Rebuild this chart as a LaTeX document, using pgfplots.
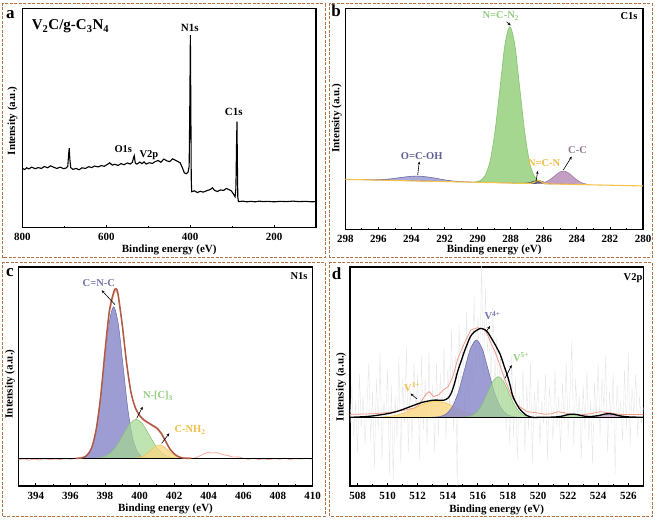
\documentclass[border=0pt]{standalone}
\usepackage{fontspec}
\setmainfont{Liberation Serif}
\usepackage{pgfplots}
\pgfplotsset{compat=1.18}
\usetikzlibrary{arrows.meta}
\definecolor{frameC}{RGB}{180,112,70}
\definecolor{pfill}{RGB}{140,140,205}
\definecolor{pline}{RGB}{105,105,165}
\definecolor{gfill}{RGB}{165,215,145}
\definecolor{gline}{RGB}{130,195,110}
\definecolor{cfill}{RGB}{195,160,195}
\definecolor{cline}{RGB}{160,125,160}
\definecolor{yline}{RGB}{245,195,75}
\definecolor{yfill}{RGB}{250,215,130}
\definecolor{navyC}{RGB}{60,70,110}
\definecolor{brownC}{RGB}{175,90,70}
\definecolor{pinkC}{RGB}{240,170,155}
\definecolor{salmonC}{RGB}{240,155,135}
\definecolor{noiseC}{RGB}{230,230,230}
\definecolor{tOCOH}{RGB}{95,95,145}
\definecolor{tGreen}{RGB}{145,205,125}
\definecolor{tYellow}{RGB}{240,190,70}
\definecolor{tCC}{RGB}{150,120,150}
\definecolor{tBlue}{RGB}{115,115,175}
\pgfplotsset{
  panel/.style={
    scale only axis, anchor=south west,
    axis line style={line width=1.4pt},
    ytick=\empty, xtick pos=lower, tick align=inside,
    major tick length=3pt, minor tick length=2pt,
    every tick/.style={black, line width=0.8pt},
    /pgf/number format/assume math mode=true,
    /pgf/number format/1000 sep={},
    xticklabel style={font=\bfseries\fontsize{11}{13}\selectfont, anchor=center},
    xlabel={Binding energy (eV)}, ylabel={Intensity (a.u.)},
    xlabel style={font=\bfseries\fontsize{11}{13}\selectfont, at={(axis description cs:0.5,0)}, anchor=center},
    ylabel style={font=\bfseries\fontsize{11}{13}\selectfont, anchor=center},
  },
}
\tikzset{
  tl/.style={anchor=base, inner sep=0pt, font=\bfseries\fontsize{10.5}{12}\selectfont},
  arr/.style={-{Stealth[length=3pt,width=2.6pt]}, line width=0.6pt, black},
}
\begin{document}
\begin{tikzpicture}[x=1pt,y=1pt]
\path[use as bounding box] (0,0) rectangle (655,519);
% ---------------- panel a
\begin{axis}[panel, at={(22.5pt,291.3pt)}, width=293.5pt, height=219.4pt,
  xmin=100, xmax=800, x dir=reverse, ymin=0, ymax=100,
  xtick={200,400,600,800}, minor xtick={100,300,500,700},
  xticklabel style={yshift=-9pt}, xlabel style={yshift=-22.3pt},
  ylabel style={at={(axis description cs:-0.034,0.487)}}]
\addplot[black, line width=1.1pt] coordinates {
(801,27.1) (795,26.5) (790,27.3) (785,26.8) (778,27.6) (770,26.9) (762,27.4) (755,27.0)
(748,27.9) (740,27.3) (733,28.2) (725,27.5) (718,27.0) (710,27.6) (702,26.9) (696,27.2)
(692,28.0) (690,33.5) (688.5,36.2) (687,31) (685,27.4) (680,26.6) (672,27.0) (665,26.4)
(658,27.3) (650,27.0) (642,27.8) (635,27.4) (628,28.1) (620,27.7) (612,28.3) (605,28.0)
(598,28.8) (592,29.6) (586,28.5) (580,28.9) (572,28.4) (565,29.2) (558,28.7) (550,29.5)
(543,29.0) (538,29.8) (535,32.0) (533.5,32.8) (531,29.5) (527,29.0) (520,29.9) (515,29.2)
(510,30.0) (505,29.0) (498,29.6) (490,29.3) (483,30.2) (476,30.6) (470,29.8) (463,31.3)
(456,30.5) (449,30.1) (442,31.4) (436,30.8) (430,30.2) (424,29.6) (419,27.5) (414,25.0)
(409,24.6) (405,25.4) (402.5,28) (401,55) (399.6,87.8) (398.5,55) (397.5,22) (396.5,16.4)
(390,16.8) (383,16.0) (376,16.6) (369,16.2) (360,16.9) (352,17.4) (347,18.2) (342,17.0)
(335,16.5) (328,17.2) (320,17.0) (314,17.9) (308,17.4) (302,16.8) (297,15.4) (293,14.1)
(291,18) (289.5,38) (288.5,48.3) (287.5,30) (286.5,14) (285,11.9) (275,12.1) (265,11.8)
(255,12.0) (245,11.8) (235,12.1) (225,11.9) (215,12.0) (200,11.8) (185,12.0) (170,11.9)
(155,12.1) (140,11.9) (125,12.0) (110,11.8) (100,11.9)};
\end{axis}
% ---------------- panel b
\begin{axis}[panel, at={(345.3pt,289.3pt)}, width=297.7pt, height=221.4pt,
  xmin=280, xmax=298, x dir=reverse, ymin=-3.67, ymax=97.4,
  xtick={280,282,...,298}, minor xtick={281,283,...,297},
  xticklabel style={yshift=-9.3pt}, xlabel style={yshift=-20.3pt},
  ylabel style={at={(axis description cs:-0.029,0.504)}}]
\addplot[fill=pfill, draw=pline, fill opacity=0.75, line width=0.6pt, smooth] coordinates {
(296.9,19.14) (296.35,19.13) (295.8,19.23) (295.25,19.55) (294.7,20.08) (294.15,20.60) (293.6,20.77)
(293.05,20.42) (292.5,19.79) (291.95,19.0) (291.4,18.5) (290.85,18.21) (290.3,18.04) (289,17.95)
(287.5,17.72) (286.6,17.45)} -- cycle;
\addplot[fill=gfill, draw=gline, line width=0.6pt, smooth] coordinates {
(290.15,18.15) (289.85,18.73) (289.55,21.02) (289.25,27.5) (288.95,41.09) (288.65,60.74) (288.35,80.69)
(288.05,89.04) (287.75,80.59) (287.45,60.84) (287.15,40.79) (286.85,26.64) (286.55,20.52) (286.25,18.13) (285.95,17.45)} -- cycle;
\addplot[fill=navyC, draw=navyC, fill opacity=0.8, line width=0.5pt, smooth] coordinates {
(285.5,17.22) (285.8,17.55) (286.05,18.22) (286.35,18.86) (286.65,18.32) (286.9,17.75) (287.2,17.5)} -- cycle;
\addplot[fill=cfill, draw=cline, line width=0.6pt, smooth] coordinates {
(286.45,17.45) (286.175,17.59) (285.9,18.09) (285.625,19.19) (285.35,20.83) (285.075,22.45) (284.8,23.1)
(284.525,22.35) (284.25,20.65) (283.975,18.91) (283.7,17.73) (283.425,17.13) (283.15,16.9)} -- cycle;
\addplot[yline, line width=1.1pt, smooth] coordinates {
(298,19.3) (294,18.63) (290,17.97) (288,17.63) (286.9,17.45) (286.6,17.9) (286.35,18.86) (286.1,18.1)
(285.8,17.3) (284,16.97) (280,16.3)};
\end{axis}
% ---------------- panel c
\begin{axis}[panel, at={(18.5pt,33pt)}, width=294pt, height=219pt,
  xmin=393, xmax=410, ymin=-0.15, ymax=97.9,
  xtick={394,396,...,410}, minor xtick={393,395,...,409},
  xticklabel style={yshift=-10pt}, xlabel style={yshift=-23pt},
  ylabel style={at={(axis description cs:-0.029,0.466)}}]
\addplot[fill=pfill, draw=pline, fill opacity=0.85, line width=0.5pt, smooth] coordinates {
(396.3,12.2) (396.575,12.35) (396.85,12.95) (397.125,15.18) (397.4,21.39) (397.675,34.25) (397.95,53.4) (398.225,72.1)
(398.5,80.1) (398.775,72.1) (399.05,53.4) (399.325,34.25) (399.6,21.39) (399.875,15.18) (400.15,12.95) (400.425,12.35) (400.7,12.2)} -- cycle;
\addplot[fill=gfill, draw=gline, fill opacity=0.7, line width=0.5pt, smooth] coordinates {
(397.0,12.2) (397.175,12.24) (397.55,12.39) (397.925,12.97) (398.3,14.57) (398.675,17.88) (399.05,22.81) (399.425,27.64)
(399.8,29.7) (400.175,27.64) (400.55,22.81) (400.925,17.88) (401.3,14.57) (401.675,12.97) (402.05,12.39) (402.425,12.24) (402.6,12.2)} -- cycle;
\addplot[fill=yfill, draw=yline, fill opacity=0.75, line width=0.5pt, smooth] coordinates {
(399.5,12.2) (399.65,12.27) (399.9,12.46) (400.15,13.01) (400.4,14.15) (400.65,15.84) (400.9,17.5) (401.15,18.2)
(401.4,17.5) (401.65,15.84) (401.9,14.15) (402.15,13.01) (402.4,12.46) (402.65,12.27) (402.8,12.2)} -- cycle;
\addplot[pinkC, line width=0.8pt] coordinates {
(393,11.6) (393.3,12.0) (393.6,11.4) (393.9,11.9) (394.2,11.5) (394.5,12.1) (394.8,11.6) (395.1,12.0) (395.4,11.7)
(395.7,12.2) (396.0,11.8) (396.3,12.3) (396.6,12.4) (396.9,13.3) (397.1,15.2) (397.25,17.0) (397.5,25) (397.75,39)
(398.0,58) (398.25,77) (398.5,85.5) (398.62,87.5) (398.75,85.5) (399.0,71.5) (399.25,54.5) (399.5,41.5) (399.75,34.5)
(400,31) (400.25,29) (400.5,27.8) (400.75,26.6) (401,25.4) (401.25,23.1) (401.5,19.6) (401.75,16.2) (402,14.0)
(402.25,12.8) (402.5,12.1) (402.8,12.6) (403.1,12.2) (403.4,13.0) (403.7,14.2) (404.0,15.0) (404.2,14.6) (404.5,14.8)
(404.8,13.9) (405.1,13.5) (405.4,12.8) (405.7,12.9) (406,12.2) (406.3,11.8) (406.6,12.3) (406.9,11.7) (407.2,12.1)
(407.5,11.6) (407.8,12.2) (408.1,11.8) (408.4,12.3) (408.7,11.7) (409.0,12.1) (409.3,11.9) (409.6,12.3) (410,11.9)};
\addplot[black, line width=0.9pt] coordinates {(393,12.2) (410,12.2)};
\addplot[brownC, line width=1.5pt, smooth] coordinates {
(396.3,12.2) (396.5,12.3) (396.75,12.6) (397,13.9) (397.25,17.4) (397.5,25.5) (397.75,40) (398,60) (398.25,78)
(398.5,86.5) (398.62,88.2) (398.75,86.0) (399,72) (399.25,55) (399.5,42) (399.75,35) (400,31.5) (400.25,29.5)
(400.5,28.2) (400.75,27) (401,25.8) (401.25,23.5) (401.5,20) (401.75,16.5) (402,14.3) (402.25,13) (402.5,12.4)
(402.75,12.25) (403,12.2)};
\end{axis}
% ---------------- panel d
\begin{axis}[panel, at={(350pt,33pt)}, width=293.3pt, height=219pt,
  xmin=507.5, xmax=527, ymin=-0.15, ymax=97.9,
  xtick={508,510,...,526}, minor xtick={509,511,...,527},
  xticklabel style={yshift=-10pt}, xlabel style={yshift=-24pt},
  ylabel style={at={(axis description cs:-0.031,0.453)}}]
\addplot[noiseC, line width=0.4pt] coordinates {
(507.5,28) (507.625,45) (507.75,22) (507.875,38) (508.0,15) (508.125,50) (508.25,26) (508.375,40)
(508.5,18) (508.625,35) (508.75,55) (508.875,20) (509.0,42) (509.125,8) (509.25,48) (509.375,25)
(509.5,60) (509.625,12) (509.75,38) (509.875,30) (510.0,52) (510.125,5) (510.25,45) (510.375,2)
(510.5,40) (510.625,22) (510.75,58) (510.875,10) (511.0,48) (511.125,28) (511.25,62) (511.375,15)
(511.5,44) (511.625,20) (511.75,55) (511.875,32) (512.0,50) (512.125,12) (512.25,58) (512.375,25)
(512.5,48) (512.625,18) (512.75,60) (512.875,28) (513.0,45) (513.125,15) (513.25,55) (513.375,22)
(513.5,50) (513.625,30) (513.75,62) (513.875,20) (514.0,52) (514.125,35) (514.25,70) (514.375,25)
(514.5,58) (514.625,0) (514.75,72) (514.875,38) (515.0,65) (515.125,30) (515.25,78) (515.375,40)
(515.5,68) (515.625,45) (515.75,85) (515.875,50) (516.0,75) (516.125,55) (516.25,99) (516.375,48)
(516.5,88) (516.625,60) (516.75,72) (516.875,45) (517.0,80) (517.125,42) (517.25,66) (517.375,38)
(517.5,60) (517.625,30) (517.75,55) (517.875,25) (518.0,50) (518.125,18) (518.25,58) (518.375,22)
(518.5,48) (518.625,12) (518.75,40) (518.875,28) (519.0,52) (519.125,15) (519.25,45) (519.375,25)
(519.5,55) (519.625,10) (519.75,42) (519.875,30) (520.0,48) (520.125,18) (520.25,38) (520.375,28)
(520.5,50) (520.625,12) (520.75,44) (520.875,35) (521.0,20) (521.125,52) (521.25,26) (521.375,40)
(521.5,15) (521.625,46) (521.75,28) (521.875,55) (522.0,22) (522.125,42) (522.25,65) (522.375,18)
(522.5,48) (522.625,30) (522.75,40) (522.875,12) (523.0,45) (523.125,25) (523.25,52) (523.375,20)
(523.5,38) (523.625,10) (523.75,46) (523.875,30) (524.0,55) (524.125,22) (524.25,48) (524.375,35)
(524.5,58) (524.625,15) (524.75,42) (524.875,28) (525.0,50) (525.125,5) (525.25,45) (525.375,30)
(525.5,38) (525.625,20) (525.75,52) (525.875,25) (526.0,60) (526.125,18) (526.25,44) (526.375,32)
(526.5,50) (526.625,22) (526.75,40) (526.875,28) (527.0,35)};
\addplot[fill=yfill, draw=yline, fill opacity=0.8, line width=0.5pt, smooth] coordinates {
(508.2,30.6) (508.65,30.62) (509.3,30.68) (509.95,30.92) (510.6,31.59) (511.25,32.97) (511.9,35.03) (512.55,37.04)
(513.2,37.9) (513.85,37.04) (514.5,35.03) (515.15,32.97) (515.8,31.59) (516.45,30.92) (517.1,30.68) (517.75,30.62) (518.2,30.6)} -- cycle;
\addplot[fill=pfill, draw=pline, fill opacity=0.85, line width=0.5pt, smooth] coordinates {
(512.8,30.6) (513.1,30.68) (513.5,30.98) (513.9,32.12) (514.3,35.28) (514.7,41.83) (515.1,51.58) (515.5,61.13)
(515.9,65.2) (516.3,61.13) (516.7,51.58) (517.1,41.83) (517.5,35.28) (517.9,32.12) (518.3,30.98) (518.7,30.68) (519,30.6)} -- cycle;
\addplot[fill=gfill, draw=gline, fill opacity=0.7, line width=0.5pt, smooth] coordinates {
(514.6,30.6) (514.9,30.64) (515.25,30.8) (515.6,31.4) (515.95,33.06) (516.3,36.51) (516.65,41.64) (517.0,46.66)
(517.35,48.8) (517.7,46.66) (518.05,41.64) (518.4,36.51) (518.75,33.06) (519.1,31.4) (519.45,30.8) (519.8,30.64) (520.1,30.6)} -- cycle;
\addplot[fill=gfill, draw=gline, fill opacity=0.8, line width=0.5pt, smooth] coordinates {
(521.0,30.6) (521.4,30.8) (521.75,31.45) (522.0,31.9) (522.3,32.1) (522.6,31.9) (522.85,31.45) (523.2,30.8) (523.6,30.6)} -- cycle;
\addplot[fill=cfill, draw=cline, fill opacity=0.8, line width=0.5pt, smooth] coordinates {
(523.4,30.6) (523.8,30.8) (524.15,31.5) (524.4,32.0) (524.7,32.2) (525.0,32.0) (525.25,31.5) (525.6,30.8) (526.0,30.6)} -- cycle;
\addplot[salmonC, line width=0.8pt] coordinates {
(507.46,31.9) (509.07,32.2) (510.15,32.8) (511.23,33.9) (511.76,34.8) (512.09,36.1) (512.4,39.5) (512.62,41.4)
(512.77,42.1) (513.05,39.9) (513.38,40.6) (513.7,42.8) (514.02,44.3) (514.34,48.8) (514.67,57.0) (515.1,63.7)
(515.53,69.7) (515.96,70.7) (516.39,70.1) (516.6,68.2) (516.92,63.0) (517.14,60.0) (517.46,54.0) (517.89,45.8)
(518.32,39.1) (518.75,35.4) (519.29,33.1) (519.83,32.7) (520.47,32.0) (520.9,32.2) (521.33,33.1) (521.76,32.6)
(522.19,32.0) (522.84,31.7) (523.48,32.2) (524.13,33.1) (524.77,32.6) (525.42,31.9) (526.39,31.8) (527,31.9)};
\addplot[black, line width=0.9pt] coordinates {(507.5,30.6) (527,30.6)};
\addplot[black, line width=1.3pt, smooth] coordinates {
(507.5,30.6) (508.5,30.9) (509.1,31.3) (509.6,31.8) (510.15,32.4) (510.7,33.4) (511.2,34.6) (511.75,36.0)
(512.3,37.3) (512.95,38.2) (513.3,38.3) (513.7,38.2) (514.0,39.1) (514.2,41.0) (514.35,43.6) (514.5,47.0)
(514.65,51.0) (514.9,56) (515.1,60.0) (515.3,63.5) (515.5,66.7) (515.75,68.8) (515.95,69.7) (516.2,70.4)
(516.5,69.7) (516.7,68.2) (516.9,66.0) (517.2,62.5) (517.5,58.5) (517.75,53.5) (517.95,49.6) (518.15,44.8)
(518.3,40.6) (518.5,37.5) (518.75,34.6) (519.0,32.8) (519.2,31.6) (519.6,30.6) (520.05,30.6) (521.0,30.7)
(521.5,31.0) (522.0,31.8) (522.3,32.0) (522.6,31.8) (523.1,31.1) (523.6,31.0) (524.1,31.5) (524.4,32.0)
(524.7,32.2) (525.0,32.0) (525.4,31.3) (526.0,30.8) (527.0,30.6)};
\end{axis}
% ---------------- frames
\draw[frameC, line width=1pt, dash pattern=on 3pt off 1.5pt] (2.5,261.3) rectangle (325,515);
\draw[frameC, line width=1pt, dash pattern=on 3pt off 1.5pt] (329.5,261.3) rectangle (652.5,515);
\draw[frameC, line width=1pt, dash pattern=on 3pt off 1.5pt] (2.5,3) rectangle (325,256);
\draw[frameC, line width=1pt, dash pattern=on 3pt off 1.5pt] (329.5,3) rectangle (652.5,256);
% ---------------- panel letters
\node[anchor=base, inner sep=0pt, font=\bfseries\fontsize{17}{19}\selectfont] at (10.3,500) {a};
\node[anchor=base, inner sep=0pt, font=\bfseries\fontsize{17}{19}\selectfont] at (336,502.3) {b};
\node[anchor=base, inner sep=0pt, font=\bfseries\fontsize{17}{19}\selectfont] at (10,242.3) {c};
\node[anchor=base, inner sep=0pt, font=\bfseries\fontsize{17}{19}\selectfont] at (336.7,239) {d};
% ---------------- panel a texts
\node[anchor=base west, inner sep=0pt, font=\bfseries\fontsize{15}{17}\selectfont] at (31.7,489) {V\textsubscript{2}C/g-C\textsubscript{3}N\textsubscript{4}};
\node[tl, font=\bfseries\fontsize{11}{13}\selectfont] at (189.7,487.3) {N1s};
\node[tl, font=\bfseries\fontsize{11}{13}\selectfont] at (233.7,403) {C1s};
\node[tl] at (123.3,366.3) {O1s};
\node[tl] at (149,361.5) {V2p};
% ---------------- panel b texts
\node[tl] at (629,499) {C1s};
\node[tl, text=tGreen] at (500.8,500.5) {N=C-N\textsubscript{2}};
\node[tl, text=tOCOH] at (421.7,359.7) {O=C-OH};
\node[tl, text=tYellow] at (544.2,352.3) {N=C-N};
\node[tl, text=tCC] at (577.5,365.7) {C-C};
\draw[arr] (506.7,497.3) -- (510.7,493.5);
\draw[arr] (417.7,344) -- (419.3,357.5);
\draw[arr] (536,337.3) -- (537.7,348);
\draw[arr] (563.3,349) -- (571.7,362.5);
% ---------------- panel c texts
\node[tl] at (299,239) {N1s};
\node[tl, text=tBlue] at (98.8,232.7) {C=N-C};
\node[tl, text=tGreen] at (158,120.5) {N-[C]\textsubscript{3}};
\node[tl, text=tYellow] at (190,86) {C-NH\textsubscript{2}};
\draw[arr] (115,214.3) -- (101.7,228.7);
\draw[arr] (136.7,100.7) -- (142.7,112.3);
\draw[arr] (161.7,75.7) -- (169.3,85.7);
% ---------------- panel d texts
\node[tl] at (633,238.5) {V2p};
\node[tl, text=tBlue] at (492.5,199) {V\textsuperscript{4+}};
\node[tl, text=tGreen] at (521,157.3) {V\textsuperscript{5+}};
\node[tl, text=tYellow] at (412,127.3) {V\textsuperscript{3+}};
\draw[arr] (486,187) -- (490,193);
\draw[arr] (505,140.7) -- (511.7,154);
\draw[arr] (417,120) -- (410.5,125.5);
\end{tikzpicture}
\end{document}
